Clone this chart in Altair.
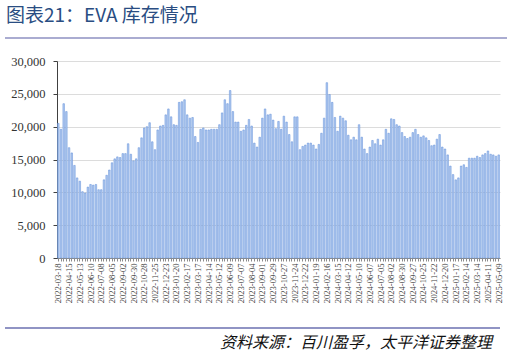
import altair as alt
import pandas as pd

# Weekly categories (every Friday) from 2022-03-18 to 2025-05-09
dates = [d.strftime("%Y-%m-%d") for d in pd.date_range("2022-03-18", "2025-05-09", freq="7D")]

values_2022_2023 = [
    20500, 19600, 23500, 22300, 16800, 16000, 14100, 12200, 11700, 10100,
    9900, 10800, 11200, 11100, 11200, 10400, 10400, 11900, 12600, 13400,
    14500, 15100, 15400, 15300, 15900, 15900, 17400, 15800, 14800, 15100,
    16800, 18300, 19800, 20000, 20600, 17700, 16500, 19500, 20100, 20200,
    21800, 22700, 21500, 20300, 20200, 23700, 23800, 24100, 21800, 21300,
    21400, 18500, 17600, 19600, 19800, 19500, 19500, 19600, 19600, 19600,
    20300, 22100, 24100, 23500, 25500, 22300, 20700, 20700, 19300, 19500,
    20200,
]
values_2023_2025 = [
    21100, 20100, 17500, 16900, 18400, 21300, 22700, 21800, 21900, 21000,
    19700, 20800, 19600, 21600, 20700, 18800, 17700, 21500, 21500, 16500,
    17000, 17200, 17500, 17500, 17200, 16600, 17300, 19000, 21300, 26700,
    24900, 23700, 21400, 19300, 21600, 21300, 20900, 18700, 18000, 18400,
    18000, 20300, 18400, 16600, 15900, 16900, 17900, 17400, 18100, 17200,
    18000, 19600, 19000, 21200, 21100, 20300, 20100, 19100, 18500, 18200,
    18400, 19100, 19600, 18800, 18400, 18600, 18300, 17900, 17100, 17200,
    18100, 18800, 16900, 16600, 15700, 14000, 12700, 11900, 12200, 14000,
    14200, 13800, 15200, 15200, 15200, 15500, 15300, 15700, 15900, 16300,
    15800, 15700, 15500, 15700,
]
values = values_2022_2023 + values_2023_2025

y_ticks = [0, 5000, 10000, 15000, 20000, 25000, 30000]
labeled_dates = dates[::4]

title_text = "图表21：EVA 库存情况"
source_text = "资料来源：百川盈孚，太平洋证券整理"

df = pd.DataFrame({"date": dates[: len(values)], "v": values})

label_list = ",".join(labeled_dates)
label_expr = f"indexof('{label_list}', datum.value) >= 0 ? datum.value : ''"

serif = "Times New Roman"

bars = alt.Chart(df).mark_bar(
    fill="#b2cbf0", stroke="#5f8dd8", strokeWidth=0.5
).encode(
    x=alt.X(
        "date:O",
        sort=None,
        scale=alt.Scale(paddingInner=0.42, paddingOuter=0.2),
        axis=alt.Axis(
            title=None,
            labelAngle=-90,
            labelExpr=label_expr,
            labelFont=serif,
            labelFontSize=8.5,
            labelColor="#404040",
            labelOverlap=False,
            tickSize=3,
            tickColor="#8c8c8c",
            domainColor="#8c8c8c",
            labelPadding=2,
        ),
    ),
    y=alt.Y(
        "v:Q",
        scale=alt.Scale(domain=[0, 30000], nice=False),
        axis=alt.Axis(
            title=None,
            values=y_ticks,
            format=",.0f",
            grid=True,
            gridColor="#dcdcdc",
            domainColor="#404040",
            tickColor="#404040",
            tickSize=4,
            labelFont=serif,
            labelFontSize=12.5,
            labelColor="#333333",
            labelPadding=8,
        ),
    ),
)

title = alt.Chart(pd.DataFrame({"t": [title_text]})).mark_text(
    align="left", baseline="middle", font="Noto Sans CJK SC", fontSize=19,
    color="#2a4d82"
).encode(x=alt.value(-51), y=alt.value(-45), text="t:N")

top_rule = alt.Chart(pd.DataFrame({"a": [0]})).mark_rule(
    color="#8e90c2", strokeWidth=1.5
).encode(x=alt.value(-52), x2=alt.value(450), y=alt.value(-23))

bottom_rule = alt.Chart(pd.DataFrame({"a": [0]})).mark_rule(
    color="#6b70b0", strokeWidth=1.5
).encode(x=alt.value(-52), x2=alt.value(443), y=alt.value(267))

source = alt.Chart(pd.DataFrame({"t": [source_text]})).mark_text(
    align="right", baseline="middle", font="Noto Sans CJK SC", fontSize=16,
    fontStyle="italic", color="#111111"
).encode(x=alt.value(435), y=alt.value(282), text="t:N")

chart = alt.layer(bars, title, top_rule, bottom_rule, source).properties(
    width=443,
    height=197,
    autosize=alt.AutoSizeParams(type="none"),
    padding={"left": 57, "top": 61, "right": 7, "bottom": 97},
    background="white",
).configure_view(stroke=None)

chart.save("out.html", embed_options={"renderer": "svg", "actions": False})
